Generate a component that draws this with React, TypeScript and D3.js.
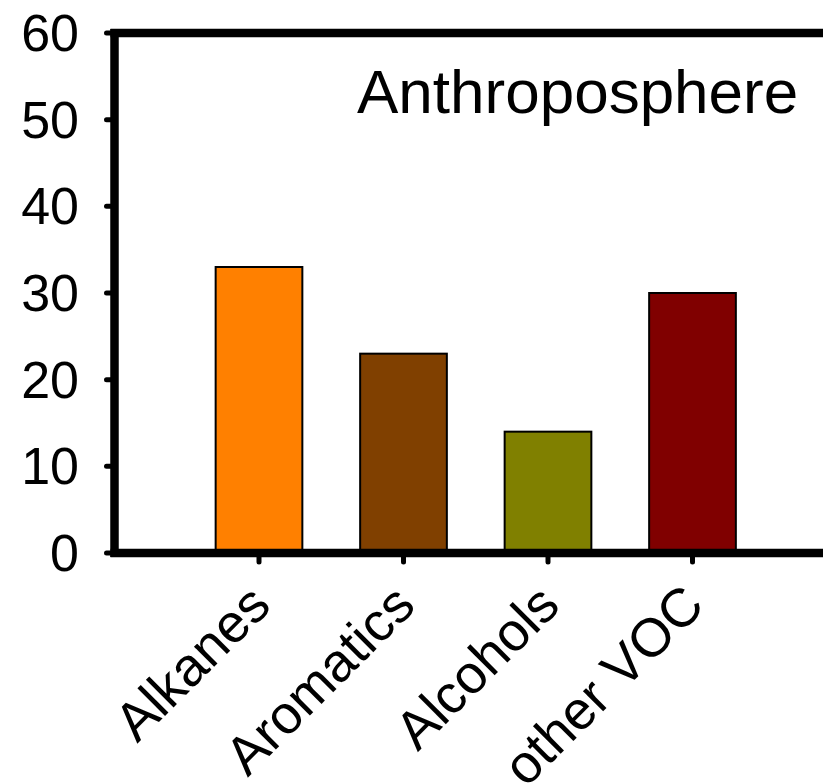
import React from 'react';
import * as d3 from 'd3';

// chart values
const categories = ['Alkanes', 'Aromatics', 'Alcohols', 'other VOC'];
const values = [33, 23, 14, 30];
const colors = ['#FF8000', '#804000', '#808000', '#800000'];
const yTicks = [0, 10, 20, 30, 40, 50, 60];
const title = 'Anthroposphere';

const width = 823;
const height = 784;
const font = '"Liberation Sans", Arial, sans-serif';

// plot frame (right edge falls outside the picture)
const left = 114.5;
const top = 33;
const bottom = 553;
const step = 144.5;

const App: React.FC = () => {
  const y = d3.scaleLinear().domain([0, 60]).range([bottom, top]);

  const x = d3.scaleBand<string>()
    .domain(categories)
    .range([left + step * 0.5, left + step * 4.5])
    .paddingInner(0.4)
    .paddingOuter(0.2);

  const center = (c: string) => (x(c) ?? 0) + x.bandwidth() / 2;

  return (
    <svg
      width={width}
      height={height}
      style={{ position: 'absolute', left: 0, top: 0, background: '#fff' }}
      fontFamily={font}
    >
      {/* bars */}
      <g>
        {categories.map((c, i) => (
          <rect
            key={c}
            x={x(c)}
            y={y(values[i])}
            width={x.bandwidth()}
            height={y(0) - y(values[i])}
            fill={colors[i]}
            stroke="#000"
            strokeWidth={2}
          />
        ))}
      </g>

      {/* y ticks and labels */}
      <g>
        {yTicks.map(t => (
          <g key={t}>
            <line x1={left - 8} x2={left} y1={y(t)} y2={y(t)} stroke="#000" strokeWidth={5} strokeLinecap="round" />
            <text x={79} y={y(t)} textAnchor="end" dominantBaseline="central" fontSize={52} fill="#000">
              {t}
            </text>
          </g>
        ))}
      </g>

      {/* x ticks and rotated labels */}
      <g>
        {categories.map(c => (
          <g key={c}>
            <line x1={center(c)} x2={center(c)} y1={bottom} y2={bottom + 9} stroke="#000" strokeWidth={5} strokeLinecap="round" />
            <text
              transform={`translate(${center(c) + 14},${bottom + 55}) rotate(-45)`}
              textAnchor="end"
              fontSize={54}
              fill="#000"
            >
              {c}
            </text>
          </g>
        ))}
      </g>

      {/* frame */}
      <line x1={left} x2={left} y1={top - 4} y2={bottom + 4} stroke="#000" strokeWidth={8.5} />
      <line x1={left - 4} x2={width} y1={top} y2={top} stroke="#000" strokeWidth={8.5} />
      <line x1={left - 4} x2={width} y1={bottom} y2={bottom} stroke="#000" strokeWidth={8.5} />

      <text x={357} y={113} fontSize={62} fill="#000">{title}</text>
    </svg>
  );
};

export default App;
